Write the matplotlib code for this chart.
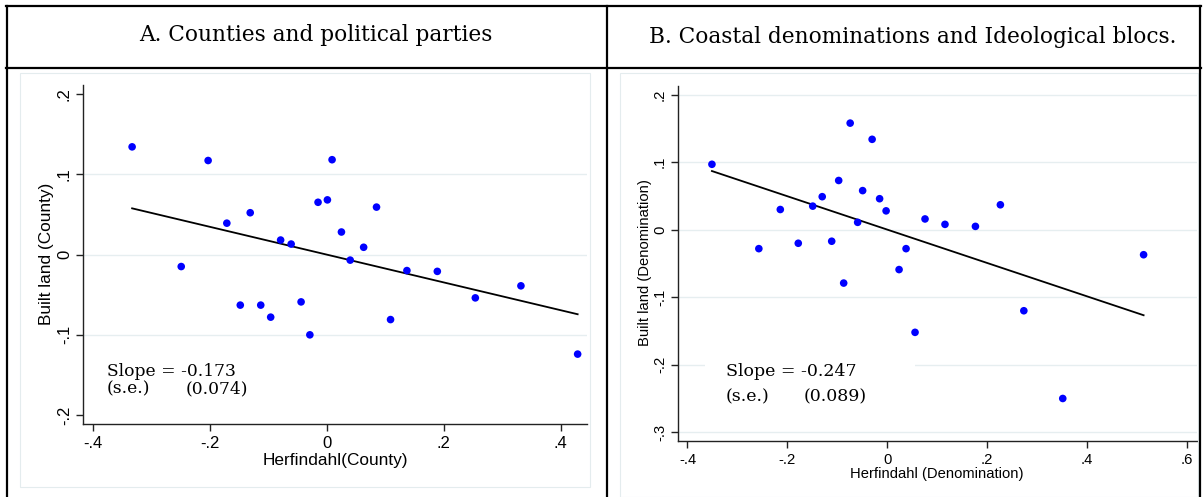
import numpy as np
import matplotlib
matplotlib.use("Agg")
import matplotlib.pyplot as plt
from matplotlib.lines import Line2D
from matplotlib.patches import Rectangle
from matplotlib.ticker import FuncFormatter

# Panel A: counties and political parties
herf_county = [-0.333, -0.203, 0.009, -0.015, 0.001, 0.085, -0.131, -0.171, 0.025,
               -0.079, -0.061, 0.063, 0.040, -0.249, 0.137, 0.189, 0.332, 0.254,
               -0.148, -0.113, -0.044, -0.096, 0.109, -0.029, 0.429]
built_county = [0.134, 0.117, 0.118, 0.065, 0.068, 0.059, 0.052, 0.039, 0.028,
                0.018, 0.013, 0.009, -0.007, -0.015, -0.020, -0.021, -0.039, -0.054,
                -0.063, -0.063, -0.059, -0.078, -0.081, -0.100, -0.124]
slope_county, se_county = -0.173, 0.074

# Panel B: coastal denominations and ideological blocs
herf_denom = [-0.351, -0.074, -0.030, -0.097, -0.049, -0.130, -0.015, -0.149, -0.214,
              -0.002, 0.227, 0.076, -0.059, 0.116, 0.177, -0.111, -0.178, -0.257,
              0.038, 0.514, 0.024, -0.087, 0.274, 0.056, 0.352]
built_denom = [0.097, 0.158, 0.134, 0.073, 0.058, 0.049, 0.046, 0.035, 0.030,
               0.028, 0.037, 0.016, 0.011, 0.008, 0.005, -0.017, -0.020, -0.028,
               -0.028, -0.037, -0.059, -0.079, -0.120, -0.152, -0.250]
slope_denom, se_denom = -0.247, 0.089

W, H = 1203, 497
fig = plt.figure(figsize=(W / 100, H / 100), dpi=100)
fig.patch.set_facecolor("white")

SANS = "Liberation Sans"
SERIF = "DejaVu Serif"
GRID = "#e6eef0"


def px(x, y):
    # pixel position from top-left -> figure fraction
    return x / W, 1 - y / H


def axes_box(left, top, right, bottom):
    return [left / W, 1 - bottom / H, (right - left) / W, (bottom - top) / H]


def stata_fmt(v, pos):
    if abs(v) < 1e-9:
        return "0"
    s = f"{v:.1f}"
    return s.replace("0.", ".")


def scatter_panel(ax, x, y, slope, xlim, ylim, xticks, yticks, grid_at, fs):
    x = np.asarray(x)
    y = np.asarray(y)
    for g in grid_at:
        ax.axhline(g, color=GRID, lw=1.0, zorder=0)
    ax.scatter(x, y, s=30, color="#0000ff", edgecolors="none", zorder=3)
    icpt = y.mean() - slope * x.mean()
    xs = np.array([x.min(), x.max()])
    ax.plot(xs, icpt + slope * xs, color="black", lw=1.3, zorder=2)
    ax.set_xlim(*xlim)
    ax.set_ylim(*ylim)
    ax.set_xticks(xticks)
    ax.set_yticks(yticks)
    ax.xaxis.set_major_formatter(FuncFormatter(stata_fmt))
    ax.yaxis.set_major_formatter(FuncFormatter(stata_fmt))
    for side in ("top", "right"):
        ax.spines[side].set_visible(False)
    for side in ("left", "bottom"):
        ax.spines[side].set_linewidth(1.0)
        ax.spines[side].set_color("#222222")
    ax.tick_params(direction="out", length=5, width=1.0, color="#222222", labelsize=fs)
    ax.tick_params(axis="y", labelrotation=90, pad=3)
    ax.tick_params(axis="x", pad=4)
    for lab in ax.get_yticklabels():
        lab.set_va("center")
        lab.set_fontfamily(SANS)
    for lab in ax.get_xticklabels():
        lab.set_fontfamily(SANS)
    ax.set_facecolor("white")


# table frame
for (x0, y0, x1, y1) in [(6, 6, 1201, 6), (6, 68, 1201, 68), (7, 6, 7, 497),
                         (607, 6, 607, 497), (1200, 6, 1200, 497)]:
    a, b = px(x0, y0)
    c, d = px(x1, y1)
    fig.add_artist(Line2D([a, c], [b, d], color="black", lw=1.6))

# faint outline of each graph region
fig.add_artist(Rectangle(px(20, 487), 570 / W, 414 / H, fill=False,
                         edgecolor="#e4ecee", lw=0.8))
fig.add_artist(Rectangle(px(620, 497), 578 / W, 424 / H, fill=False,
                         edgecolor="#e4ecee", lw=0.8))

# panel titles
fig.text(*px(316, 35), "A. Counties and political parties", family=SERIF,
         fontsize=15.6, ha="center", va="center")
fig.text(*px(913, 37), "B. Coastal denominations and Ideological blocs.", family=SERIF,
         fontsize=15.6, ha="center", va="center")

# Panel A
ax1 = fig.add_axes(axes_box(83, 85, 587, 424))
scatter_panel(ax1, herf_county, built_county, slope_county,
              (-0.417, 0.445), (-0.211, 0.211),
              [-0.4, -0.2, 0, 0.2, 0.4], [-0.2, -0.1, 0, 0.1, 0.2],
              [-0.1, 0, 0.1], 12)
fig.text(*px(335, 460), "Herfindahl(County)", family=SANS, fontsize=12.4,
         ha="center", va="center")
fig.text(*px(46, 254), "Built land (County)", family=SANS, fontsize=12.4,
         ha="center", va="center", rotation=90)
fig.text(*px(107, 371), f"Slope = {slope_county:.3f}", family=SERIF, fontsize=12.3,
         ha="left", va="center")
fig.text(*px(107, 389), "(s.e.)", family=SERIF, fontsize=12.3, ha="left", va="center")
fig.text(*px(186, 389), f"({se_county:.3f})", family=SERIF, fontsize=12.3,
         ha="left", va="center")

# Panel B
ax2 = fig.add_axes(axes_box(678, 86, 1197, 441))
scatter_panel(ax2, herf_denom, built_denom, slope_denom,
              (-0.419, 0.621), (-0.313, 0.213),
              [-0.4, -0.2, 0, 0.2, 0.4, 0.6], [-0.3, -0.2, -0.1, 0, 0.1, 0.2],
              [-0.3, -0.2, -0.1, 0, 0.1, 0.2], 10.6)
fig.text(*px(937, 474), "Herfindahl (Denomination)", family=SANS, fontsize=10.6,
         ha="center", va="center")
fig.text(*px(645, 263), "Built land (Denomination)", family=SANS, fontsize=10.6,
         ha="center", va="center", rotation=90)
fig.add_artist(Rectangle(px(705, 412), 210 / W, 56 / H, facecolor="white",
                         edgecolor="none", zorder=5))
fig.text(*px(726, 372), f"Slope = {slope_denom:.3f}", family=SERIF, fontsize=12.5,
         ha="left", va="center", zorder=6)
fig.text(*px(726, 397), "(s.e.)", family=SERIF, fontsize=12.5, ha="left",
         va="center", zorder=6)
fig.text(*px(804, 397), f"({se_denom:.3f})", family=SERIF, fontsize=12.5,
         ha="left", va="center", zorder=6)

fig.savefig("out.png", dpi=100, facecolor="white")
